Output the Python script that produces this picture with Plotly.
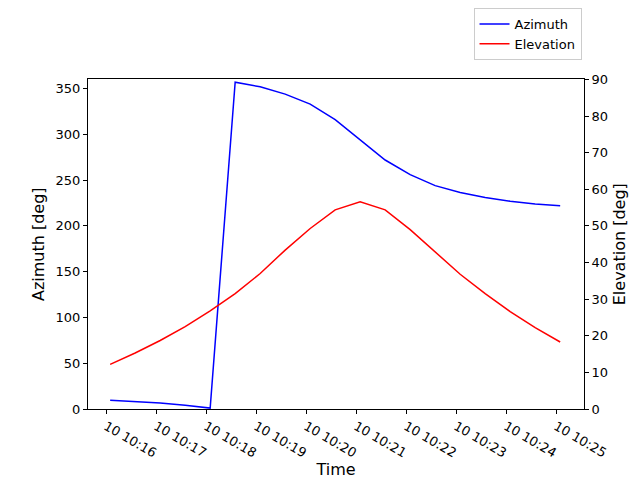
import plotly.graph_objects as go

minutes = [16 + 5/60 + 0.5*i for i in range(19)]
azimuth = [9.5, 8, 6.5, 4, 1, 357, 352, 344, 333, 316, 294, 272, 256, 244, 236.5, 231, 227, 224, 222]
elevation = [12.2, 15.3, 18.7, 22.5, 26.8, 31.5, 37, 43.4, 49.3, 54.4, 56.6, 54.4, 49, 43, 36.8, 31.5, 26.6, 22.2, 18.3]
tick_vals = list(range(16, 26))
tick_text = [f"10 10:{m}" for m in tick_vals]

fig = go.Figure()
fig.add_trace(go.Scatter(x=minutes, y=azimuth, mode="lines", name="Azimuth", line=dict(color="blue", width=1.5)))
fig.add_trace(go.Scatter(x=minutes, y=elevation, mode="lines", name="Elevation", yaxis="y2", line=dict(color="red", width=1.5)))

ax = dict(showline=True, linecolor="black", linewidth=1, ticks="outside", ticklen=4,
          tickcolor="black", showgrid=False, zeroline=False, tickfont=dict(size=13, color="black"))
fig.update_layout(
    width=640, height=480, plot_bgcolor="white", paper_bgcolor="white",
    font=dict(family="DejaVu Sans", size=13, color="black"),
    margin=dict(l=80, r=64, t=58, b=53),
    xaxis=dict(**ax, range=[15.64, 25.56], tickvals=tick_vals, ticktext=tick_text, mirror=True,
               title=dict(text="Time", standoff=4)),
    yaxis=dict(**ax, range=[0, 360], dtick=50, title=dict(text="Azimuth [deg]", standoff=6)),
    yaxis2=dict(**ax, range=[0, 90], dtick=10, overlaying="y", side="right",
                title=dict(text="Elevation [deg]", standoff=6)),
    legend=dict(x=0.995, y=1.0, xref="paper", yref="container", xanchor="right", yanchor="top",
                bordercolor="#cccccc", borderwidth=1, bgcolor="white", font=dict(size=13)),
)
fig.write_html("out.html")
